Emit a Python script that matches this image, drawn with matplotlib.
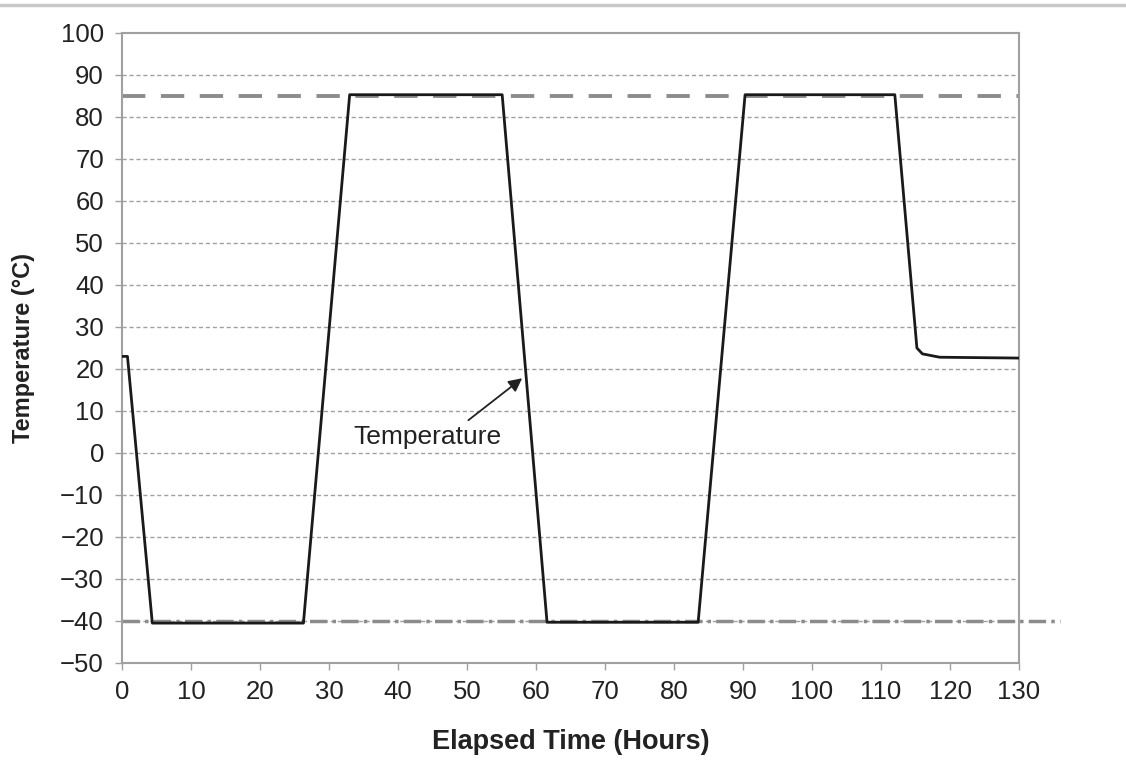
import matplotlib.pyplot as plt
from matplotlib.lines import Line2D
import numpy as np

plt.rcParams['font.family'] = ['Liberation Sans', 'DejaVu Sans']

# breakpoints of the temperature profile
hours = [0, 0.8, 4.4, 26.3, 33.0, 55.1, 61.6, 83.5, 90.3, 112.0, 115.2, 116.0, 118.5, 130]
temp = [23, 23, -40.5, -40.5, 85.3, 85.3, -40.3, -40.3, 85.3, 85.3, 25.0, 23.6, 22.8, 22.6]

hot_limit = 85
cold_limit = -40
xticks = np.arange(0, 131, 10)
yticks = np.arange(-50, 101, 10)

fig = plt.figure(figsize=(11.26, 7.67), dpi=100)
ax = fig.add_axes([0.1083, 0.1356, 0.7967, 0.8214])

# page separator line at the top
fig.add_artist(Line2D([0, 1], [0.993, 0.993], color='#c8c8c8', lw=2.5))

for y in yticks[1:-1]:
    ax.axhline(y, color='#a0a0a0', lw=1, ls=(0, (3, 2)), zorder=1)

ax.plot([0, 130], [hot_limit, hot_limit], color='#8c8c8c', lw=2.8,
        ls=(0, (6, 4)), zorder=2)
ax.plot([0, 136], [cold_limit, cold_limit], color='#8c8c8c', lw=2.5,
        ls=(0, (5, 1.5, 1, 1.5)), zorder=2, clip_on=False)

ax.plot(hours, temp, color='#1a1a1a', lw=2, zorder=3)

# label with arrow pointing at the falling edge
ax.annotate('', xy=(58.0, 17.8), xytext=(50.2, 7.8),
            arrowprops=dict(arrowstyle='-|>', color='#222222', lw=1.3,
                            mutation_scale=20, shrinkA=0, shrinkB=0))
ax.text(44.3, 3.8, 'Temperature', fontsize=19, color='#222222',
        ha='center', va='center')

ax.set_xlim(0, 130)
ax.set_ylim(-50, 100)
ax.set_xticks(xticks)
ax.set_yticks(yticks)
ax.tick_params(labelsize=18.5, colors='#222222', length=5, width=1, color='#a0a0a0')
ax.tick_params(axis='x', pad=7)
ax.tick_params(axis='y', pad=8)
for s in ax.spines.values():
    s.set_color('#a0a0a0')
    s.set_linewidth(1.5)

ax.set_xlabel('Elapsed Time (Hours)', fontsize=19.5, fontweight='bold', color='#222222', labelpad=18)
ax.set_ylabel('Temperature (\u00b0C)', fontsize=17, fontweight='bold', color='#222222', labelpad=18)

plt.savefig('out.png', dpi=100)
